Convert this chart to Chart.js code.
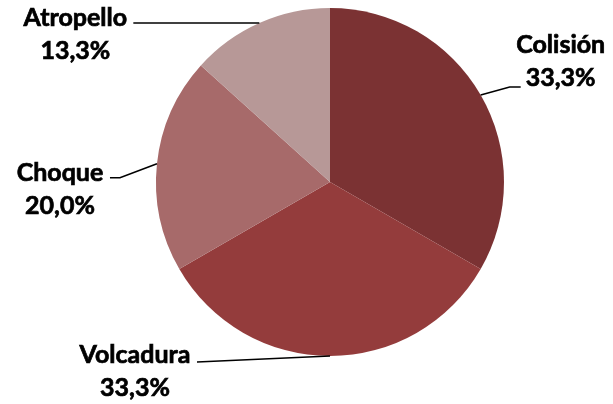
<!DOCTYPE html>
<html>
<head>
<meta charset="utf-8">
<script src="https://cdn.jsdelivr.net/npm/chart.js@4/dist/chart.umd.min.js"></script>
<style>
html,body{margin:0;padding:0;background:#fff;}
#wrap{width:613px;height:404px;position:relative;}
</style>
</head>
<body>
<div id="wrap"><canvas id="c" width="613" height="404"></canvas></div>
<script>
const categories = ['Colisión', 'Volcadura', 'Choque', 'Atropello'];
const percentages = [33.3, 33.3, 20.0, 13.3];
const sliceColors = ['#7B3233', '#943C3C', '#A76A6A', '#B79897'];

// label layout relative to each slice's outer midpoint (styles/positions only)
const labelLayout = [
  { elbow: [29, -8], end: [40, -8], text: [80, -42] },   // Colisión
  { elbow: null, end: [-133, 6], text: [-195, 7] },      // Volcadura
  { elbow: [-37, 14], end: [-47, 14], text: [-97, 17] }, // Choque
  { elbow: null, end: [-126, 0], text: [-184, 3] }       // Atropello
];

const fmt = v => v.toFixed(1).replace('.', ',') + '%';

const labelPlugin = {
  id: 'pieLabels',
  afterDatasetsDraw(chart) {
    const ctx = chart.ctx;
    const meta = chart.getDatasetMeta(0);
    ctx.save();
    meta.data.forEach((arc, i) => {
      const p = arc.getProps(['x', 'y', 'startAngle', 'endAngle', 'outerRadius'], true);
      const mid = (p.startAngle + p.endAngle) / 2;
      const mx = p.x + Math.cos(mid) * p.outerRadius;
      const my = p.y + Math.sin(mid) * p.outerRadius;
      const L = labelLayout[i];
      ctx.strokeStyle = '#000';
      ctx.lineWidth = 1.6;
      ctx.beginPath();
      ctx.moveTo(mx, my);
      if (L.elbow) ctx.lineTo(mx + L.elbow[0], my + L.elbow[1]);
      ctx.lineTo(mx + L.end[0], my + L.end[1]);
      ctx.stroke();
      ctx.fillStyle = '#000';
      ctx.font = 'bold 25px Lato';
      ctx.textAlign = 'center';
      ctx.textBaseline = 'alphabetic';
      ctx.lineWidth = 0.7;
      const tx = mx + L.text[0], ty = my + L.text[1];
      ctx.fillText(categories[i], tx, ty);
      ctx.strokeText(categories[i], tx, ty);
      ctx.fillText(fmt(percentages[i]), tx, ty + 33);
      ctx.strokeText(fmt(percentages[i]), tx, ty + 33);
    });
    ctx.restore();
  }
};

new Chart(document.getElementById('c'), {
  type: 'pie',
  data: {
    labels: categories,
    datasets: [{
      data: percentages,
      backgroundColor: sliceColors,
      borderWidth: 0
    }]
  },
  options: {
    responsive: false,
    animation: false,
    layout: { padding: { left: 156, right: 109, top: 8, bottom: 48 } },
    plugins: { legend: { display: false }, tooltip: { enabled: false } }
  },
  plugins: [labelPlugin]
});
</script>
</body>
</html>
